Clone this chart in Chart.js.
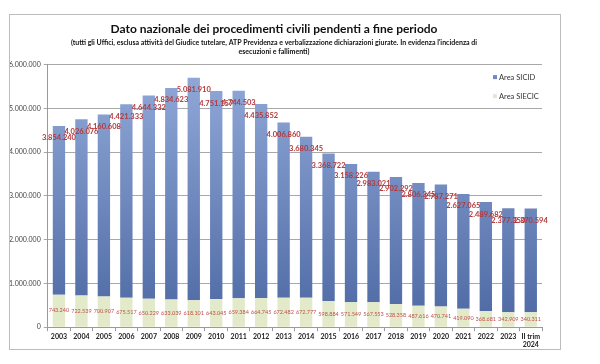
<!DOCTYPE html>
<html>
<head>
<meta charset="utf-8">
<script src="https://cdn.jsdelivr.net/npm/chart.js@4.4.1/dist/chart.umd.min.js"></script>
<style>
  html, body { margin: 0; padding: 0; background: #fff; }
  #wrap { width: 600px; height: 364px; }
</style>
</head>
<body>
<div id="wrap"><canvas id="c" width="600" height="364"></canvas></div>
<script>
// anni / periodi
const years = ['2003', '2004', '2005', '2006', '2007', '2008', '2009', '2010', '2011', '2012', '2013',
  '2014', '2015', '2016', '2017', '2018', '2019', '2020', '2021', '2022', '2023', ['II trim', '2024']];

// pendenti Area SICID
const sicid = [3854240, 4026076, 4160608, 4421333, 4644332, 4834623, 5081910, 4751157, 4744503, 4435852, 4006860,
  3680345, 3368722, 3158226, 2983021, 2902292, 2806345, 2787271, 2627065, 2489682, 2377350, 2370594];

// pendenti Area SIECIC (esecuzioni e fallimenti)
const siecic = [743240, 722539, 700907, 675517, 650229, 633039, 618101, 643045, 659384, 664745, 672482,
  672777, 598884, 571549, 567553, 528358, 487616, 470741, 419090, 368681, 342909, 340311];

const yTicks = [0, 1000000, 2000000, 3000000, 4000000, 5000000, 6000000];

const fmt = v => String(v).replace(/\B(?=(\d{3})+(?!\d))/g, '.');

// sfumatura verticale delle barre blu
function blueGradient(ctx) {
  const chart = ctx.chart;
  const area = chart.chartArea;
  if (!area) return '#6f89c0';
  const g = chart.ctx.createLinearGradient(0, area.top, 0, area.bottom);
  g.addColorStop(0, '#93abda');
  g.addColorStop(1, '#4d68a3');
  return g;
}

// etichette dati, cornice e legenda disegnate a mano
const extras = {
  id: 'extras',
  afterDatasetsDraw(chart) {
    const ctx = chart.ctx;
    const metaG = chart.getDatasetMeta(0);
    const metaB = chart.getDatasetMeta(1);
    ctx.save();
    ctx.textAlign = 'center';
    ctx.textBaseline = 'middle';
    // valori SIECIC al centro del segmento verde
    ctx.font = '5.5px Lato';
    ctx.fillStyle = '#c0504d';
    metaG.data.forEach((bar, i) => {
      ctx.fillText(fmt(siecic[i]), bar.x, (bar.y + bar.base) / 2);
    });
    // valori SICID sotto la cima della barra
    ctx.font = 'bold 7.5px Lato';
    ctx.fillStyle = '#b3383b';
    metaB.data.forEach((bar, i) => {
      ctx.fillText(fmt(sicid[i]), bar.x, bar.y + 12);
    });
    ctx.restore();
  },
  afterDraw(chart) {
    const ctx = chart.ctx;
    const area = chart.chartArea;
    ctx.save();
    // cornice esterna
    ctx.strokeStyle = '#bcbcbc';
    ctx.lineWidth = 1;
    ctx.strokeRect(9.5, 14.5, 551, 335);
    // legenda
    ctx.font = '7.5px Lato';
    ctx.textBaseline = 'middle';
    ctx.textAlign = 'left';
    const items = [
      { label: chart.data.datasets[1].label, color: '#7188c0' },
      { label: chart.data.datasets[0].label, color: '#e3eacb' }
    ];
    items.forEach((it, i) => {
      const y = area.top + 13 + i * 19;
      const x = area.right - 43;
      ctx.fillStyle = it.color;
      ctx.fillRect(x - 6, y - 2.5, 4, 4);
      ctx.fillStyle = '#333';
      ctx.fillText(it.label, x, y);
    });
    ctx.restore();
  }
};

new Chart(document.getElementById('c'), {
  type: 'bar',
  data: {
    labels: years,
    datasets: [
      {
        label: 'Area SIECIC',
        data: siecic,
        backgroundColor: '#e3eac9',
        barPercentage: 0.55,
        categoryPercentage: 1.0
      },
      {
        label: 'Area SICID',
        data: sicid,
        backgroundColor: blueGradient,
        barPercentage: 0.55,
        categoryPercentage: 1.0
      }
    ]
  },
  options: {
    responsive: false,
    animation: false,
    layout: { padding: { left: 6, right: 58, top: 0, bottom: 14 } },
    plugins: {
      legend: { display: false },
      tooltip: { enabled: false },
      title: {
        display: true,
        text: 'Dato nazionale dei procedimenti civili pendenti a fine periodo',
        color: '#111',
        font: { family: 'Lato', size: 12, weight: 'bold' },
        padding: { top: 22, bottom: 2 }
      },
      subtitle: {
        display: true,
        text: ["(tutti gli Uffici, esclusa attività del Giudice tutelare, ATP Previdenza e verbalizzazione dichiarazioni giurate. In evidenza l'incidenza di",
          'esecuzioni e fallimenti)'],
        color: '#111',
        font: { family: 'Lato', size: 7, weight: 'bold', lineHeight: 1.3 },
        padding: { top: 0, bottom: 8 }
      }
    },
    scales: {
      x: {
        stacked: true,
        grid: { display: true, drawOnChartArea: false, tickLength: 4, color: '#9a9a9a' },
        border: { color: '#9a9a9a' },
        ticks: {
          color: '#222',
          font: { family: 'Lato', size: 7, weight: 'bold' },
          maxRotation: 0,
          autoSkip: false,
          padding: 1
        }
      },
      y: {
        stacked: true,
        min: 0,
        max: 6000000,
        afterBuildTicks: axis => { axis.ticks = yTicks.map(v => ({ value: v })); },
        grid: { color: '#a8a8a8', tickLength: 4 },
        border: { color: '#9a9a9a' },
        ticks: {
          color: '#444',
          font: { family: 'Lato', size: 7 },
          padding: 3,
          callback: v => fmt(v)
        }
      }
    }
  },
  plugins: [extras]
});
</script>
</body>
</html>
